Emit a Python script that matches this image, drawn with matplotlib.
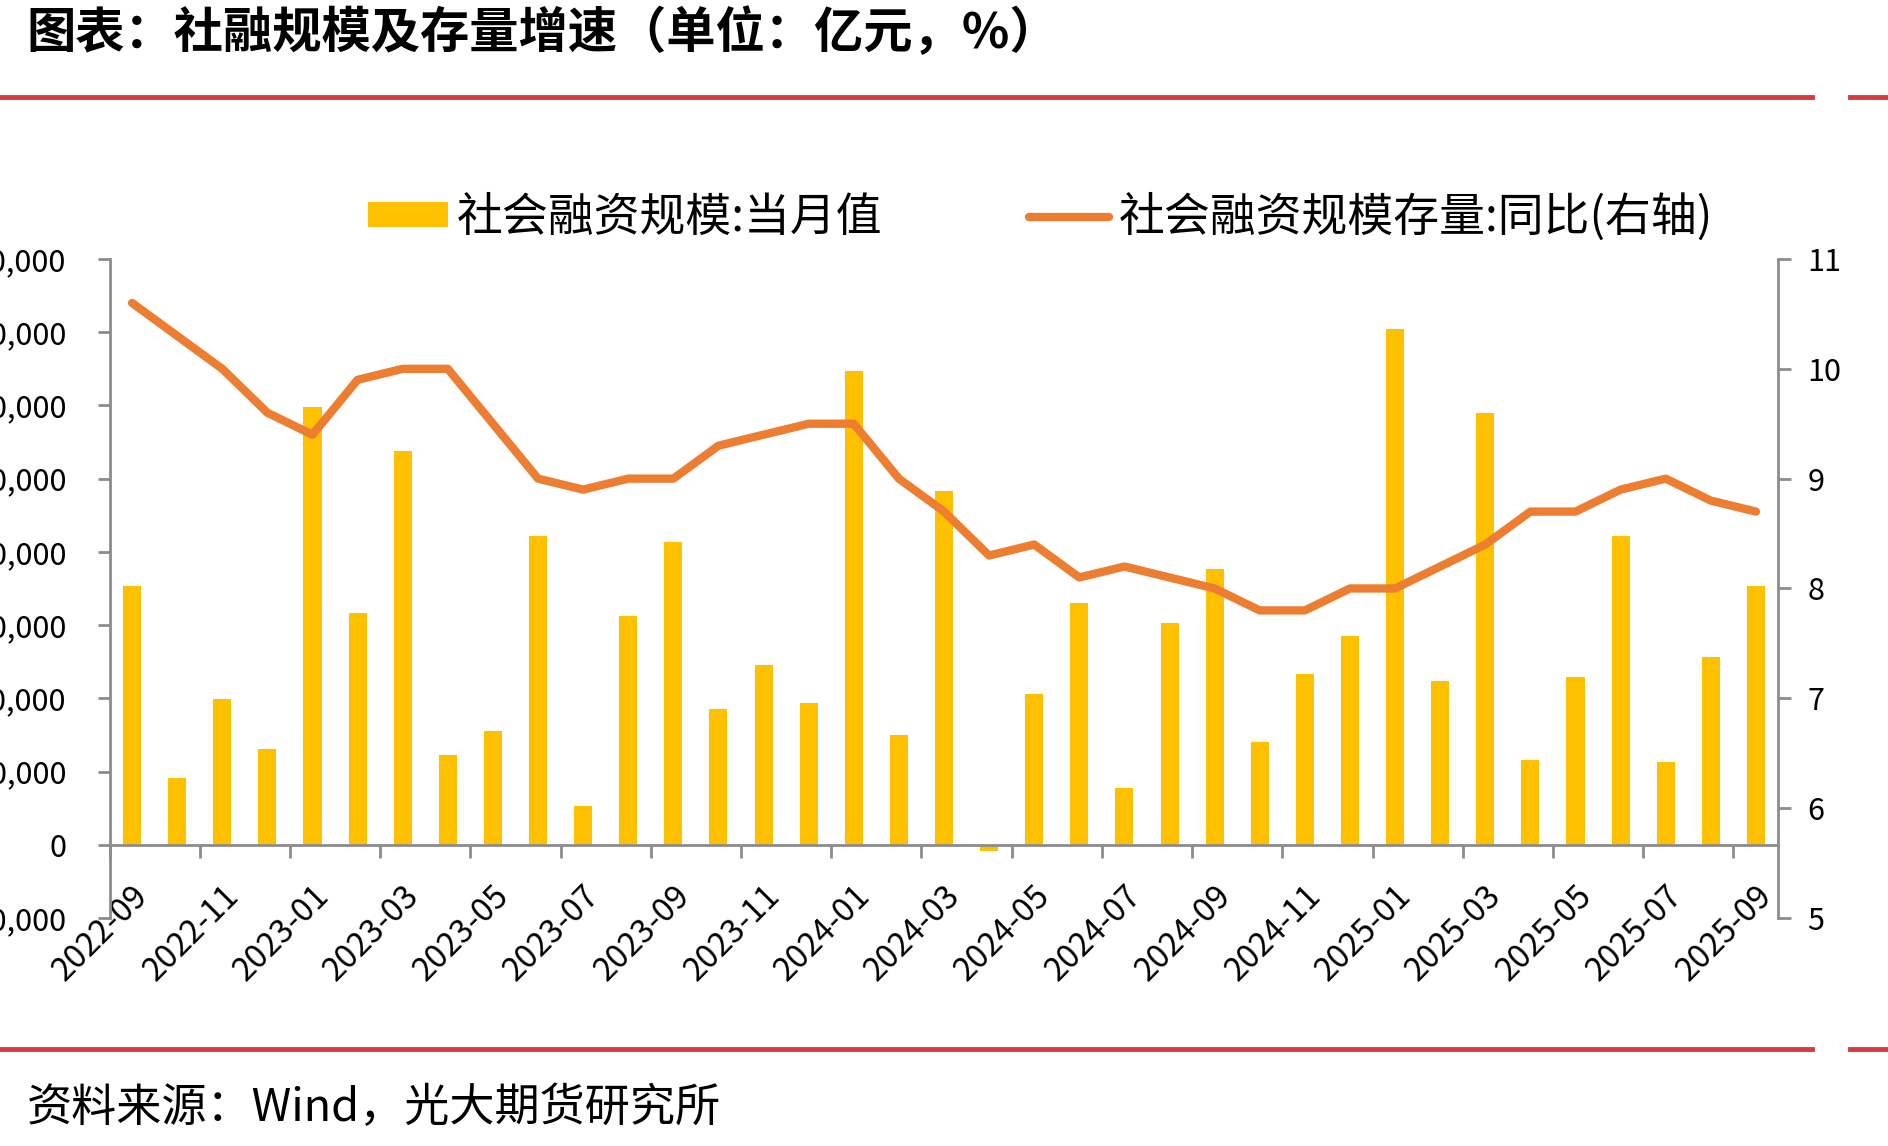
import matplotlib
matplotlib.use('Agg')
from matplotlib import pyplot as plt
from matplotlib.lines import Line2D
from matplotlib.patches import Patch
from matplotlib.ticker import FuncFormatter

plt.rcParams['font.family'] = ['Noto Sans CJK SC', 'DejaVu Sans']

months = ['2022-09', '2022-10', '2022-11', '2022-12',
          '2023-01', '2023-02', '2023-03', '2023-04', '2023-05', '2023-06',
          '2023-07', '2023-08', '2023-09', '2023-10', '2023-11', '2023-12',
          '2024-01', '2024-02', '2024-03', '2024-04', '2024-05', '2024-06',
          '2024-07', '2024-08', '2024-09', '2024-10', '2024-11', '2024-12',
          '2025-01', '2025-02', '2025-03', '2025-04', '2025-05', '2025-06',
          '2025-07', '2025-08', '2025-09']

# 社会融资规模:当月值 (亿元)
flow = [35300, 9079, 19837, 13058,
        59800, 31600, 53800, 12200, 15600, 42200,
        5282, 31200, 41300, 18500, 24500, 19300,
        64700, 15000, 48300, -800, 20600, 33000,
        7708, 30300, 37600, 14000, 23300, 28500,
        70400, 22300, 58900, 11600, 22900, 42100,
        11300, 25700, 35300]

# 社会融资规模存量:同比 (%)
yoy = [10.6, 10.3, 10.0, 9.6,
       9.4, 9.9, 10.0, 10.0, 9.5, 9.0,
       8.9, 9.0, 9.0, 9.3, 9.4, 9.5,
       9.5, 9.0, 8.7, 8.3, 8.4, 8.1,
       8.2, 8.1, 8.0, 7.8, 7.8, 8.0,
       8.0, 8.2, 8.4, 8.7, 8.7, 8.9,
       9.0, 8.8, 8.7]

bar_color = '#FFC000'
line_color = '#ED7D31'
axis_color = '#8C8C8C'
red = '#D63B3F'

x = list(range(len(months)))

fig = plt.figure(figsize=(18.88, 11.46), dpi=100)
ax = fig.add_axes([0.058, 0.199, 0.884, 0.575])
ax2 = ax.twinx()

ax.bar(x, flow, width=0.4, color=bar_color, zorder=2)
ax2.plot(x, yoy, color=line_color, lw=6, solid_joinstyle='round',
         solid_capstyle='round', zorder=3)

# x axis sits on the zero line of the left axis
ax.spines['bottom'].set_position(('data', 0))
for s in ['top', 'right']:
    ax.spines[s].set_visible(False)
for s in ['top', 'left', 'bottom']:
    ax2.spines[s].set_visible(False)
for sp in [ax.spines['left'], ax.spines['bottom'], ax2.spines['right']]:
    sp.set_color(axis_color)
    sp.set_linewidth(2)

ax.set_xlim(-0.5, len(months) - 0.5)
ax.set_ylim(-10000, 80000)
ax.set_yticks(range(-10000, 80001, 10000))
ax.yaxis.set_major_formatter(FuncFormatter(lambda v, p: f'{v:,.0f}'))
ax2.set_ylim(5, 11)
ax2.set_yticks(range(5, 12))

# category boundaries every two months as tick marks, labels at centres
ax.set_xticks([i - 0.5 for i in range(0, len(months), 2)])
ax.set_xticklabels([])
ax.set_xticks(x[::2], minor=True)
ax.set_xticklabels(months[::2], minor=True)
for lab in ax.get_xticklabels(minor=True):
    lab.set_rotation(45)
    lab.set_ha('right')
    lab.set_va('top')
    lab.set_rotation_mode('anchor')
    lab.set_fontsize(23.5)
ax.tick_params(axis='x', which='minor', length=0, pad=25)
ax.tick_params(axis='x', which='major', length=9, width=2, color=axis_color)

ax.tick_params(axis='y', length=9, width=2, color=axis_color, pad=22,
               labelsize=22)
ax2.tick_params(axis='y', length=9, width=2, color=axis_color, pad=12,
                labelsize=22)

handles = [Patch(facecolor=bar_color, edgecolor='none'),
           Line2D([], [], color=line_color, lw=6, solid_capstyle='round')]
fig.legend(handles, ['社会融资规模:当月值', '社会融资规模存量:同比(右轴)'],
           loc='center', bbox_to_anchor=(0.551, 0.81), ncol=2, frameon=False,
           fontsize=33, handlelength=1.75, handleheight=0.45,
           handletextpad=0.2, columnspacing=3.2)

fig.text(0.014, 0.971, '图表：社融规模及存量增速（单位：亿元，%）',
         fontsize=35.5, fontweight='bold', va='center', ha='left')
fig.text(0.014, 0.033, '资料来源：Wind，光大期货研究所',
         fontsize=32.5, style='italic', va='center', ha='left')

for y in [0.915, 0.085]:
    fig.add_artist(Line2D([0, 0.960], [y, y], transform=fig.transFigure,
                          color=red, lw=3.5))
    fig.add_artist(Line2D([0.980, 1.0], [y, y], transform=fig.transFigure,
                          color=red, lw=3.5))

fig.savefig('out.png', dpi=100)
